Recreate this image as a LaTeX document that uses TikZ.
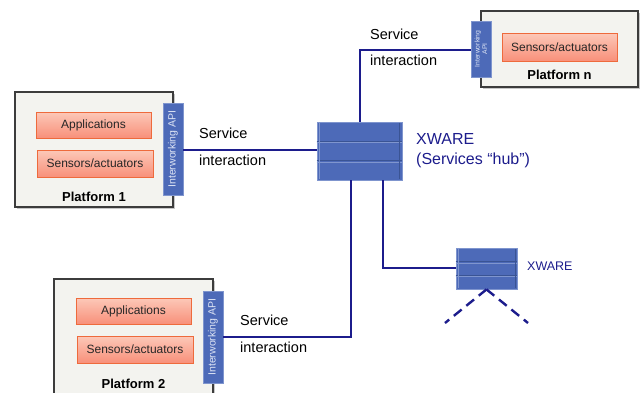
\documentclass[tikz,border=0pt]{standalone}
\usepackage{fontspec}
\setmainfont{Liberation Sans}
\usetikzlibrary{calc}
\definecolor{navy}{HTML}{1C1C8C}
\definecolor{platfill}{HTML}{F3F3EF}
\definecolor{platdraw}{HTML}{3C3C3C}
\definecolor{ortop}{HTML}{FCC8B8}
\definecolor{orbot}{HTML}{F8907A}
\definecolor{ordraw}{HTML}{EE6A3C}
\definecolor{hubfill}{HTML}{4D6AB8}
\definecolor{hubdark}{HTML}{3A5494}
\definecolor{hublight}{HTML}{7F95CE}
\definecolor{apitext}{HTML}{DDE4F4}
\begin{document}
\begin{tikzpicture}[x=1pt,y=-1pt,
  platbox/.style={draw=platdraw,fill=platfill,line width=1.3pt,inner sep=0pt},
  platshadow/.style={fill=black!22,draw=none,inner sep=0pt},
  orbox/.style={draw=ordraw,line width=0.9pt,top color=ortop,bottom color=orbot,inner sep=0pt,font=\fontsize{12}{14}\selectfont,text=black!85},
  apibar/.style={fill=hubfill,draw=hublight,line width=0.5pt,inner sep=0pt},
  apitxt/.style={rotate=90,text=apitext,inner sep=0pt,align=center},
  hubbox/.style={fill=hubfill,draw=hublight,line width=0.8pt,inner sep=0pt},
  link/.style={navy,line width=2.2pt},
  dlink/.style={navy,line width=2.4pt,dash pattern=on 10pt off 6pt},
  lbl/.style={font=\fontsize{14.5}{16}\selectfont,anchor=west,inner sep=0pt},
  ptitle/.style={font=\bfseries\fontsize{13}{15}\selectfont,inner sep=0pt}
]
\useasboundingbox (0,0) rectangle (643,392);

% Platform 1
\node[platshadow,minimum width=158pt,minimum height=115pt] at (96,151.5) {};
\node[platbox,minimum width=158pt,minimum height=115pt] (p1) at (94,149.5) {};
\node[orbox,minimum width=115pt,minimum height=26pt] (app1) at (93.5,125) {Applications};
\node[orbox,minimum width=116pt,minimum height=27pt] (sen1) at (95,163.5) {Sensors/actuators};
\node[ptitle] (t1) at (94,197) {Platform 1};
\node[apibar,minimum width=20pt,minimum height=92pt] (api1) at (173,149) {};
\node[apitxt,font=\fontsize{10.5}{12}\selectfont] (api1t) at (api1.center) {Interworking API};

% Platform 2
\node[platshadow,minimum width=159pt,minimum height=122pt] at (135.5,342) {};
\node[platbox,minimum width=159pt,minimum height=122pt] (p2) at (133.5,340) {};
\node[orbox,minimum width=115pt,minimum height=26pt] (app2) at (133.5,311) {Applications};
\node[orbox,minimum width=116pt,minimum height=27pt] (sen2) at (135,349.5) {Sensors/actuators};
\node[ptitle] (t2) at (133.5,384) {Platform 2};
\node[apibar,minimum width=20pt,minimum height=92pt] (api2) at (213,337) {};
\node[apitxt,font=\fontsize{10.5}{12}\selectfont] (api2t) at (api2.center) {Interworking API};

% Platform n
\node[platshadow,minimum width=157pt,minimum height=76pt] at (561.5,51) {};
\node[platbox,minimum width=157pt,minimum height=76pt] (pn) at (559.5,49) {};
\node[orbox,minimum width=115pt,minimum height=28pt] (senn) at (559.5,47) {Sensors/actuators};
\node[ptitle] (tn) at (559.5,75) {Platform n};
\node[apibar,minimum width=20pt,minimum height=56pt] (apin) at (481,49) {};
\node[apitxt,font=\fontsize{6.8}{7.5}\selectfont] (apint) at (apin.center) {Interworking\\API};

% Hub
\node[hubbox,minimum width=85pt,minimum height=58pt] (hub) at (359.5,151) {};
\foreach \yy in {141.3,160.7}{
  \draw[hubdark,line width=1.1pt] (hub.west |- 0,\yy) -- (hub.east |- 0,\yy);
  \draw[hublight,line width=0.6pt] ($(hub.west |- 0,\yy)+(0,1.4)$) -- ($(hub.east |- 0,\yy)+(0,1.4)$);
}
\draw[hublight,line width=0.5pt] ($(hub.north west)+(3,1)$) -- ($(hub.south west)+(3,-1)$);
\draw[hubdark,line width=0.5pt] ($(hub.north east)+(-3,1)$) -- ($(hub.south east)+(-3,-1)$);
\node[anchor=west,text=navy,font=\fontsize{16}{20}\selectfont,align=left,inner sep=0pt] (hubl) at (416,151) {XWARE\\(Services “hub”)};

% Small XWARE
\node[hubbox,minimum width=61pt,minimum height=41pt] (sx) at (486.5,268.5) {};
\foreach \yy in {261.8,275.2}{
  \draw[hubdark,line width=1.1pt] (sx.west |- 0,\yy) -- (sx.east |- 0,\yy);
  \draw[hublight,line width=0.6pt] ($(sx.west |- 0,\yy)+(0,1.3)$) -- ($(sx.east |- 0,\yy)+(0,1.3)$);
}
\draw[hublight,line width=0.5pt] ($(sx.north west)+(2.5,1)$) -- ($(sx.south west)+(2.5,-1)$);
\draw[hubdark,line width=0.5pt] ($(sx.north east)+(-2.5,1)$) -- ($(sx.south east)+(-2.5,-1)$);
\node[anchor=west,text=navy,font=\fontsize{12.5}{14}\selectfont,inner sep=0pt] (sxl) at (527,266) {XWARE};
\coordinate (dl) at (445,323);
\coordinate (dr) at (528,323);
\draw[dlink] (sx.south) -- (dl);
\draw[dlink] (sx.south) -- (dr);

% Connectors
\coordinate (cn) at (360,50);
\coordinate (c2) at (351,337);
\coordinate (c3) at (383,268);
\draw[link] (api1.east |- 0,150) -- (hub.west |- 0,150);
\draw[link] (hub.north -| cn) -- (cn) -- (apin.west |- cn);
\draw[link] (hub.south -| c2) -- (c2) -- (api2.east |- c2);
\draw[link] (hub.south -| c3) -- (c3) -- (sx.west |- c3);

% Labels
\node[lbl] (s1a) at (199,133) {Service};
\node[lbl] (s1b) at (199,160) {interaction};
\node[lbl] (sna) at (370,34) {Service};
\node[lbl] (snb) at (370,60) {interaction};
\node[lbl] (s2a) at (240,320) {Service};
\node[lbl] (s2b) at (240,347) {interaction};
\end{tikzpicture}
\end{document}
